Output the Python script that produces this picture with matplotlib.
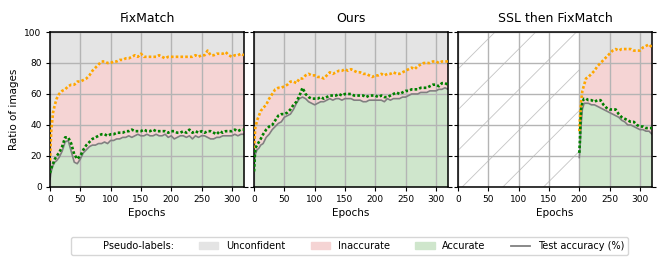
import numpy as np
import matplotlib
matplotlib.use('Agg')
import matplotlib.pyplot as plt
from matplotlib.patches import Patch, Rectangle
from matplotlib.lines import Line2D

# epochs sampled for FixMatch / Ours
epochs = [0, 2, 5, 8, 11, 15] + list(range(20, 325, 5))

fm_confident = [17, 36, 48, 53, 57, 60,
                62, 63, 65, 66, 66, 68, 68, 69, 70, 72, 75, 77, 79, 81, 81, 80, 80,
                81, 81, 82, 82, 83, 83, 84, 85, 84, 86, 84, 84, 84, 84, 84, 85, 84,
                83, 84, 84, 84, 84, 84, 84, 84, 84, 84, 85, 84, 85, 85, 88, 85, 85,
                86, 86, 86, 87, 85, 84, 85, 85, 86, 85]
fm_accurate = [9, 12, 15, 18, 20, 22,
               26, 32, 32, 28, 21, 18, 20, 24, 27, 29, 31, 32, 33, 34, 34, 33, 34,
               34, 35, 35, 35, 36, 36, 37, 36, 36, 36, 37, 36, 36, 37, 36, 36, 36,
               36, 35, 36, 36, 35, 35, 36, 35, 37, 35, 36, 35, 36, 35, 36, 36, 35,
               34, 36, 35, 36, 36, 36, 37, 36, 37, 37]
fm_test = [5, 10, 14, 16, 17, 19,
           23, 29, 30, 23, 16, 15, 18, 22, 24, 26, 27, 27, 28, 28, 29, 28, 30,
           30, 31, 31, 32, 32, 33, 32, 33, 34, 33, 33, 34, 33, 33, 34, 33, 33,
           34, 32, 33, 31, 32, 33, 33, 32, 33, 31, 33, 32, 33, 33, 32, 31, 31,
           32, 32, 33, 33, 33, 33, 34, 33, 34, 34]

ours_confident = [25, 38, 43, 46, 49, 51,
                  53, 57, 60, 63, 64, 64, 65, 66, 68, 68, 67, 70, 70, 72, 73, 72, 72,
                  71, 71, 70, 72, 74, 73, 74, 75, 75, 76, 75, 76, 75, 74, 74, 73, 73,
                  72, 71, 72, 72, 73, 72, 73, 73, 74, 73, 73, 74, 75, 76, 77, 76, 78,
                  79, 80, 80, 80, 81, 81, 80, 81, 81, 81]
ours_accurate = [10, 25, 27, 29, 31, 34,
                 37, 39, 40, 43, 46, 47, 47, 48, 50, 53, 55, 59, 64, 60, 58, 57, 57,
                 57, 58, 57, 58, 59, 59, 59, 60, 59, 60, 60, 60, 59, 59, 59, 59, 58,
                 59, 59, 59, 58, 59, 58, 58, 59, 60, 61, 60, 61, 62, 62, 63, 63, 63,
                 64, 64, 64, 65, 66, 66, 65, 67, 67, 66]
ours_test = [14, 21, 24, 25, 27, 28,
             32, 34, 37, 39, 41, 42, 45, 46, 47, 50, 54, 57, 58, 57, 55, 54, 53,
             54, 55, 55, 56, 57, 56, 57, 57, 56, 57, 57, 57, 56, 56, 56, 55, 55,
             56, 56, 56, 56, 56, 55, 57, 56, 57, 57, 57, 58, 58, 59, 60, 60, 60,
             61, 61, 61, 62, 62, 62, 63, 63, 64, 63]

# SSL pretraining for 200 epochs, then FixMatch
ssl_epochs = [200, 201, 202, 203, 205, 208, 211, 215] + list(range(220, 325, 5))
ssl_confident = [36, 44, 50, 55, 62, 66, 70, 71,
                 73, 75, 78, 80, 82, 84, 86, 88, 89, 88, 89, 89, 89, 89, 88, 88,
                 88, 90, 91, 92, 90]
ssl_accurate = [22, 30, 42, 50, 55, 57, 57, 56,
                56, 55, 56, 56, 53, 51, 50, 50, 50, 47, 45, 44, 43, 42, 42, 40,
                39, 39, 38, 38, 38]
ssl_test = [19, 24, 32, 40, 50, 54, 54, 54,
            53, 53, 52, 51, 50, 49, 48, 47, 46, 45, 43, 42, 40, 40, 39, 38,
            37, 37, 36, 36, 34]

titles = ['FixMatch', 'Ours', 'SSL then FixMatch']

c_unconf = '#e4e4e4'
c_inacc = '#f5d4d4'
c_acc = '#cfe6cc'

fig, axes = plt.subplots(1, 3, figsize=(6.64, 2.69), dpi=100, sharey=True)
fig.subplots_adjust(left=0.0753, right=0.982, top=0.881, bottom=0.305, wspace=0.052)

runs = [(epochs, fm_confident, fm_accurate, fm_test),
        (epochs, ours_confident, ours_accurate, ours_test),
        (ssl_epochs, ssl_confident, ssl_accurate, ssl_test)]

for ax, title, (ep, conf, acc, test) in zip(axes, titles, runs):
    ep = np.array(ep)
    ax.fill_between(ep, conf, 100, color=c_unconf, lw=0)
    ax.fill_between(ep, test, conf, color=c_inacc, lw=0)
    ax.fill_between(ep, 0, test, color=c_acc, lw=0)
    ax.plot(ep, test, color='gray', lw=1.2, zorder=2)
    ax.plot(ep, conf, color='orange', lw=1.9, dashes=(1, 0.8), zorder=3)
    ax.plot(ep, acc, color='green', lw=1.9, dashes=(1, 0.8), zorder=3)
    ax.set_xlim(0, 320)
    ax.set_ylim(0, 100)
    ax.set_xticks(range(0, 301, 50))
    ax.set_yticks(range(0, 101, 20))
    ax.grid(True, color='#b4b4b4', lw=1.0)
    ax.set_title(title, fontsize=9, pad=7)
    ax.set_xlabel('Epochs', fontsize=7.5, labelpad=3)
    ax.tick_params(labelsize=6.5, length=3, width=0.8, right=True, pad=3)
    for s in ax.spines.values():
        s.set_linewidth(1.1)

axes[0].set_ylabel('Ratio of images', fontsize=7.5, labelpad=4)

# diagonal hatch over the SSL-only part of the third panel
ax = axes[2]
pos = ax.get_position()
w_px = pos.width * 664
h_px = pos.height * 269
slope = (100 / h_px) / (320 / w_px)
clip = Rectangle((0, 0), 200, 100, transform=ax.transData, visible=False)
ax.add_patch(clip)
xs = np.array([-400, 400])
for c_px in np.arange(118, -300, -40.7):
    ln, = ax.plot(xs, slope * xs + c_px * 100 / h_px, color='#c4c4c4', lw=0.6, zorder=1.2)
    ln.set_clip_path(clip)

handles = [Patch(alpha=0), Patch(color=c_unconf), Patch(color=c_inacc),
           Patch(color=c_acc), Line2D([], [], color='gray', lw=1.3)]
labels = ['Pseudo-labels:', 'Unconfident', 'Inaccurate', 'Accurate', 'Test accuracy (%)']
fig.legend(handles, labels, loc='center', bbox_to_anchor=(0.527, 0.085), ncol=5,
           fontsize=7, frameon=True, columnspacing=2.6, handlelength=2.0,
           borderpad=0.4, edgecolor='#cccccc')

fig.savefig('out.png', dpi=100)
